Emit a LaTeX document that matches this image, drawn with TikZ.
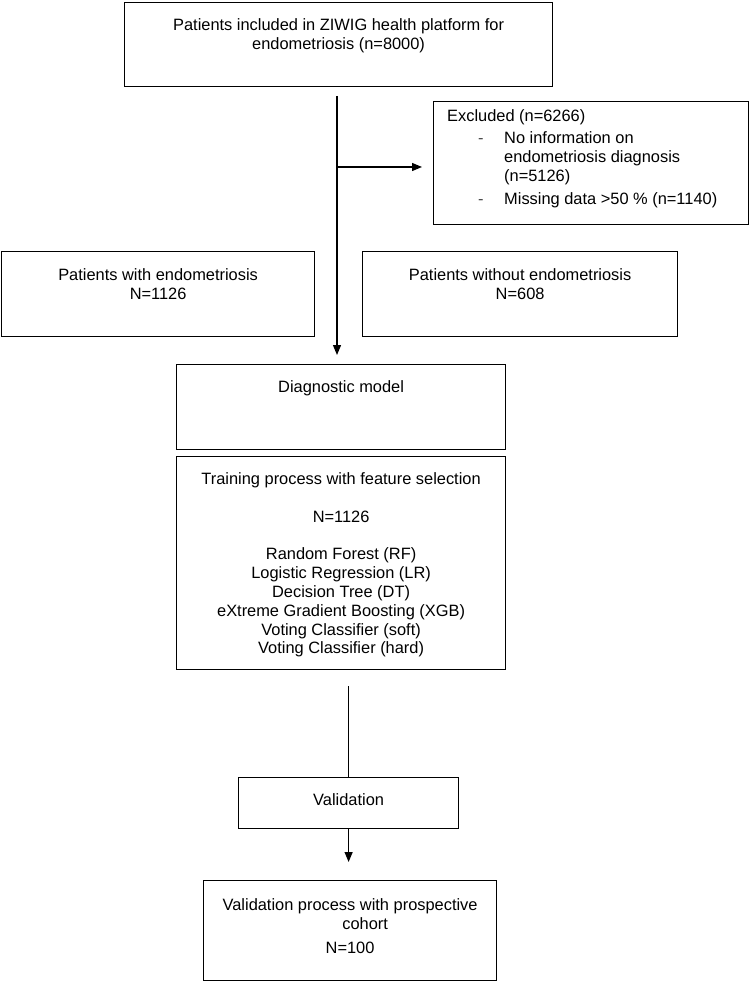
\documentclass[tikz,border=0pt]{standalone}
\usepackage{fontspec}
\setmainfont{Liberation Sans}
\usetikzlibrary{arrows.meta}
\newcommand\fs{\rule{0pt}{12pt}}
\begin{document}
\begin{tikzpicture}[x=1pt,y=-1pt,
  box/.style={draw=black, line width=1.2pt, inner sep=0pt, anchor=north west},
  txt/.style={font=\fontsize{16.4}{18.8}\selectfont, inner sep=0pt, align=center, anchor=north},
  conn/.style={line width=1.2pt},
  arr/.style={conn, -{Triangle[length=10pt,width=8pt]}}]
\useasboundingbox (0,0) rectangle (751,981);
% boxes
\node[box, minimum width=428pt, minimum height=84pt] (top) at (124,2) {};
\node[box, minimum width=315pt, minimum height=123pt] (excl) at (433,101) {};
\node[box, minimum width=313pt, minimum height=85pt] (withE) at (1,251) {};
\node[box, minimum width=315pt, minimum height=85pt] (withoutE) at (362,251) {};
\node[box, minimum width=329pt, minimum height=85pt] (diag) at (176,364) {};
\node[box, minimum width=329pt, minimum height=213pt] (train) at (176,456) {};
\node[box, minimum width=220pt, minimum height=51pt] (valid) at (238,777) {};
\node[box, minimum width=293pt, minimum height=100pt] (final) at (203,880) {};
% texts
\node[txt] (toptxt) at ([yshift=-16.5pt]top.north) {\fs Patients included in ZIWIG health platform for\\endometriosis (n=8000)};
\node[txt, align=left, anchor=north west] (excltxt) at ([xshift=14pt,yshift=-8.5pt]excl.north west) {\fs Excluded (n=6266)\\[3pt]
\hspace*{31pt}\makebox[26pt][l]{\textcolor{black!70}{-}}No information on\\
\hspace*{57pt}endometriosis diagnosis\\
\hspace*{57pt}(n=5126)\\[4.5pt]
\hspace*{31pt}\makebox[26pt][l]{\textcolor{black!70}{-}}Missing data >50 \% (n=1140)};
\node[txt] (withEtxt) at ([yshift=-17.5pt]withE.north) {\fs Patients with endometriosis\\N=1126};
\node[txt] (withoutEtxt) at ([yshift=-17.5pt]withoutE.north) {\fs Patients without endometriosis\\N=608};
\node[txt] (diagtxt) at ([yshift=-16.5pt]diag.north) {\fs Diagnostic model};
\node[txt] (traintxt) at ([yshift=-16.5pt]train.north) {\fs Training process with feature selection\\[18.8pt]
N=1126\\[18.8pt]
Random Forest (RF)\\
Logistic Regression (LR)\\
Decision Tree (DT)\\
eXtreme Gradient Boosting (XGB)\\
Voting Classifier (soft)\\
Voting Classifier (hard)};
\node[txt] (validtxt) at ([yshift=-16.5pt]valid.north) {\fs Validation};
\node[txt] (finaltxt) at ([yshift=-18.5pt]final.north) {\fs Validation process with prospective\\
\hspace*{30pt}cohort\\[5pt]
N=100};
% connectors
\coordinate (vs) at (337,96);
\coordinate (ve) at ([yshift=9pt]diag.north -| vs);
\coordinate (hs) at (vs |- 0,167);
\coordinate (he) at ([xshift=-11pt]excl.west |- hs);
\draw[arr] (vs) -- (ve);
\draw[arr] (hs) -- (he);
\coordinate (ls) at ([yshift=-16pt]train.south -| valid.north);
\draw[conn] (ls) -- (valid.north);
\coordinate (fe) at ([yshift=18pt]final.north -| valid.south);
\draw[arr] (valid.south) -- (fe);
\end{tikzpicture}
\end{document}
